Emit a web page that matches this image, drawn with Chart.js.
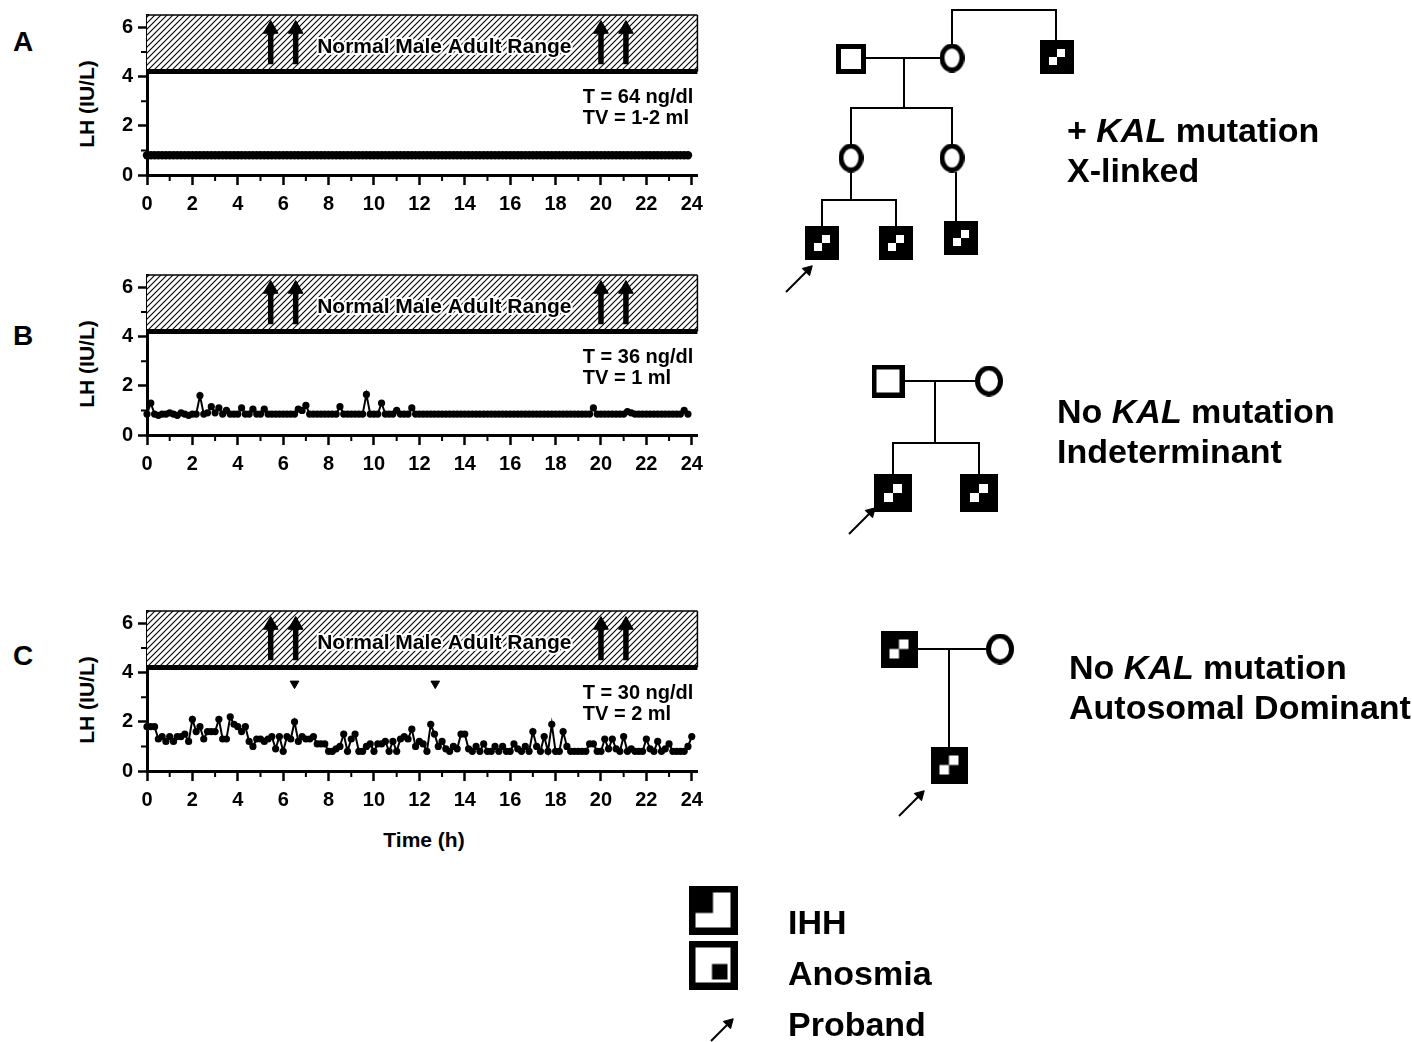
<!DOCTYPE html>
<html><head><meta charset="utf-8">
<script src="https://cdn.jsdelivr.net/npm/chart.js@4.4.1/dist/chart.umd.min.js"></script>
<style>
html,body{margin:0;padding:0;background:#fff;}
body{width:1412px;height:1042px;position:relative;overflow:hidden;font-family:"Liberation Sans",Arial,Helvetica,sans-serif;}
canvas{position:absolute;}
.lbl{position:absolute;font-weight:bold;color:#000;white-space:nowrap;}
.big{font-size:34px;line-height:40px;}
.letter{font-size:28px;line-height:40px;}
.ytitle{font-size:21px;line-height:24px;width:120px;height:24px;text-align:center;transform:rotate(-90deg);}
</style></head><body>
<canvas id="lh0" width="610" height="222" style="left:100px;top:-2px"></canvas>
<canvas id="lh1" width="610" height="222" style="left:100px;top:258px"></canvas>
<canvas id="lh2" width="610" height="222" style="left:100px;top:594px"></canvas>
<canvas id="ped" width="732" height="1042" style="left:680px;top:0px"></canvas>

<div class="lbl letter" style="left:13px;top:22px">A</div>
<div class="lbl letter" style="left:13px;top:316px">B</div>
<div class="lbl letter" style="left:13px;top:636px">C</div>

<div class="lbl ytitle" style="left:27px;top:92px">LH (IU/L)</div>
<div class="lbl ytitle" style="left:27px;top:352px">LH (IU/L)</div>
<div class="lbl ytitle" style="left:27px;top:688px">LH (IU/L)</div>
<div class="lbl" style="left:364px;top:828px;width:120px;text-align:center;font-size:21px;line-height:24px;">Time (h)</div>

<div class="lbl big" style="left:1067px;top:110px">+ <i>KAL</i> mutation</div>
<div class="lbl big" style="left:1067px;top:150px">X-linked</div>
<div class="lbl big" style="left:1057px;top:391px">No <i>KAL</i> mutation</div>
<div class="lbl big" style="left:1057px;top:431px">Indeterminant</div>
<div class="lbl big" style="left:1069px;top:647px">No <i>KAL</i> mutation</div>
<div class="lbl big" style="left:1069px;top:687px">Autosomal Dominant</div>
<div class="lbl big" style="left:788px;top:902px">IHH</div>
<div class="lbl big" style="left:788px;top:953px">Anosmia</div>
<div class="lbl big" style="left:788px;top:1004px">Proband</div>

<script>
// ---------------- DATA ----------------
const SAMPLE_HOURS = 1 / 6;          // one LH sample every 10 minutes
const hourTicks = [0, 2, 4, 6, 8, 10, 12, 14, 16, 18, 20, 22, 24];
const lhTicks = [0, 2, 4, 6];
const normalRangeLow = 4.2;
const normalRangeHigh = 6.5;
const rangeLabel = 'Normal Male Adult Range';
const rangeArrowHours = [5.45, 6.55, 20.0, 21.1];
const markerHoursC = [6.5, 12.7];
const tLabels = ['T = 64 ng/dl', 'T = 36 ng/dl', 'T = 30 ng/dl'];
const tvLabels = ['TV = 1-2 ml', 'TV = 1 ml', 'TV = 2 ml'];

const lhA = [
0.8,0.8,0.8,0.8,0.8,0.8,0.8,0.8,0.8,0.8,0.8,0.8,
0.8,0.8,0.8,0.8,0.8,0.8,0.8,0.8,0.8,0.8,0.8,0.8,
0.8,0.8,0.8,0.8,0.8,0.8,0.8,0.8,0.8,0.8,0.8,0.8,
0.8,0.8,0.8,0.8,0.8,0.8,0.8,0.8,0.8,0.8,0.8,0.8,
0.8,0.8,0.8,0.8,0.8,0.8,0.8,0.8,0.8,0.8,0.8,0.8,
0.8,0.8,0.8,0.8,0.8,0.8,0.8,0.8,0.8,0.8,0.8,0.8,
0.8,0.8,0.8,0.8,0.8,0.8,0.8,0.8,0.8,0.8,0.8,0.8,
0.8,0.8,0.8,0.8,0.8,0.8,0.8,0.8,0.8,0.8,0.8,0.8,
0.8,0.8,0.8,0.8,0.8,0.8,0.8,0.8,0.8,0.8,0.8,0.8,
0.8,0.8,0.8,0.8,0.8,0.8,0.8,0.8,0.8,0.8,0.8,0.8,
0.8,0.8,0.8,0.8,0.8,0.8,0.8,0.8,0.8,0.8,0.8,0.8,
0.8,0.8,0.8,0.8,0.8,0.8,0.8,0.8,0.8,0.8,0.8,0.8
];
const lhB = [
0.85,1.3,0.85,0.8,0.85,0.85,0.9,0.85,0.8,0.9,0.85,0.8,
0.85,0.85,1.6,0.85,0.9,1.15,0.9,1.1,0.85,1.0,0.85,0.85,
0.85,1.1,0.85,0.85,1.05,0.85,0.85,1.05,0.85,0.85,0.85,0.85,
0.85,0.85,0.85,0.85,1.05,1.0,1.2,0.85,0.85,0.85,0.85,0.85,
0.85,0.85,0.85,1.15,0.85,0.85,0.85,0.85,0.85,0.85,1.65,0.85,
0.85,0.85,1.3,0.85,0.85,0.85,1.0,0.85,0.85,0.85,1.1,0.85,
0.85,0.85,0.85,0.85,0.85,0.85,0.85,0.85,0.85,0.85,0.85,0.85,
0.85,0.85,0.85,0.85,0.85,0.85,0.85,0.85,0.85,0.85,0.85,0.85,
0.85,0.85,0.85,0.85,0.85,0.85,0.85,0.85,0.85,0.85,0.85,0.85,
0.85,0.85,0.85,0.85,0.85,0.85,0.85,0.85,0.85,0.85,1.1,0.85,
0.85,0.85,0.85,0.85,0.85,0.85,0.85,0.95,0.9,0.85,0.85,0.85,
0.85,0.85,0.85,0.85,0.85,0.85,0.85,0.85,0.85,0.85,1.0,0.85
];
const lhC = [
1.8,1.8,1.8,1.3,1.4,1.2,1.4,1.2,1.4,1.4,1.5,1.2,
2.1,1.6,1.8,1.3,1.6,1.6,1.6,2.1,1.3,1.3,2.2,1.9,
1.8,1.6,1.8,1.2,1.0,1.3,1.3,1.2,1.3,1.4,0.9,1.4,
0.8,1.4,1.3,2.0,1.2,1.4,1.3,1.3,1.4,1.1,1.1,1.1,
0.8,0.8,0.9,1.0,1.5,0.8,1.3,1.5,0.8,0.8,1.0,1.1,
0.8,1.1,1.1,1.2,0.8,1.2,0.8,1.3,1.4,1.3,1.7,1.0,
1.2,1.1,0.8,1.9,1.5,1.0,1.2,0.9,0.8,1.0,0.9,1.5,
1.5,0.9,0.8,1.0,0.8,1.1,0.8,0.8,1.0,0.8,1.0,0.8,
0.8,1.1,0.9,0.8,1.0,0.8,1.6,1.0,0.8,1.4,0.8,1.9,
0.8,0.8,1.6,1.0,0.8,0.8,0.8,0.8,0.8,1.1,1.1,0.8,
0.8,1.3,0.9,1.3,0.9,0.8,1.4,0.8,0.9,0.8,0.8,0.8,
1.3,0.9,0.8,1.2,0.8,0.9,1.1,0.8,0.8,0.8,0.8,1.0,
1.4
];

// Pedigree layout (page coordinates)
const pedigreeMembers = [
  {x:851, y:59,  kind:'male',     w:30, h:30},
  {x:952, y:58,  kind:'female',   w:25, h:29},
  {x:1057,y:57,  kind:'affected', w:34, h:34},
  {x:851, y:158, kind:'female',   w:25, h:29},
  {x:952, y:158, kind:'female',   w:25, h:29},
  {x:822, y:243, kind:'affected', w:34, h:34},
  {x:896, y:243, kind:'affected', w:34, h:34},
  {x:961, y:238, kind:'affected', w:34, h:34},
  {x:888, y:381, kind:'male',     w:33, h:33},
  {x:989, y:381, kind:'female',   w:28, h:31},
  {x:893, y:493, kind:'affected', w:38, h:38},
  {x:979, y:493, kind:'affected', w:38, h:38},
  {x:899, y:649, kind:'affected', w:37, h:37},
  {x:1000,y:649, kind:'female',   w:28, h:31},
  {x:949, y:765, kind:'affected', w:37, h:37},
  {x:713, y:910, kind:'ihh',      w:49, h:49},
  {x:713, y:965, kind:'anosmia',  w:49, h:49}
];
const pedigreeLines = [
  [[952,44],[952,10],[1056,10],[1056,40]],
  [[866,58],[940,58]],
  [[904,58],[904,108]],
  [[851,144],[851,108],[952,108],[952,144]],
  [[851,172],[851,200]],
  [[822,226],[822,200],[896,200],[896,226]],
  [[956,172],[956,221]],
  [[904,381],[975,381]],
  [[935,381],[935,443]],
  [[893,474],[893,443],[979,443],[979,474]],
  [[917,649],[986,649]],
  [[949,649],[949,747]]
];
const probandArrows = [
  [[786,292],[808,270]],
  [[849,534],[871,512]],
  [[899,816],[920,795]],
  [[711,1041],[729,1023]]
];

// ---------------- RENDER ----------------
const FONT = '"Liberation Sans", Arial, Helvetica, sans-serif';
const X_MAX = 24.25;

function makePattern(ctx) {
  const c = document.createElement('canvas'); c.width = 6; c.height = 6;
  const g = c.getContext('2d');
  g.fillStyle = '#fff'; g.fillRect(0, 0, 6, 6);
  g.strokeStyle = '#000'; g.lineWidth = 1.1;
  g.beginPath();
  g.moveTo(-1, 7); g.lineTo(7, -1);
  g.moveTo(-1, 1); g.lineTo(1, -1);
  g.moveTo(5, 7); g.lineTo(7, 5);
  g.stroke();
  return ctx.createPattern(c, 'repeat');
}

function makePanel(idx, values, markers) {
  const canvas = document.getElementById('lh' + idx);
  const ctx = canvas.getContext('2d');
  const pattern = makePattern(ctx);
  const series = values.map((v, k) => ({x: k * SAMPLE_HOURS, y: v}));
  const datasets = [];
  datasets.push({data:[{x:0,y:normalRangeHigh},{x:X_MAX,y:normalRangeHigh}], fill:{value:normalRangeLow},
    backgroundColor:pattern, borderColor:'#000', borderWidth:1.5, pointRadius:0, order:30, clip:false});
  datasets.push({data:[{x:X_MAX,y:normalRangeHigh},{x:X_MAX,y:normalRangeLow}], borderColor:'#000',
    borderWidth:1.5, pointRadius:0, fill:false, order:29, clip:false});
  datasets.push({data:[{x:0,y:normalRangeLow},{x:X_MAX,y:normalRangeLow}], borderColor:'#000',
    borderWidth:5, pointRadius:0, fill:false, order:28, clip:false});
  rangeArrowHours.forEach(h => datasets.push({
    data:[{x:h,y:4.5},{x:h,y:5.93}], borderColor:'#000', borderWidth:5.5, borderCapStyle:'butt',
    pointRadius:[0,8.5], pointStyle:'triangle', pointBackgroundColor:'#000', pointBorderColor:'#000',
    pointBorderWidth:1, fill:false, order:10, clip:false}));
  if (markers) datasets.push({data: markers.map(h => ({x:h, y:3.55})), showLine:false,
    pointStyle:'triangle', pointRotation:180, pointRadius:5, pointBackgroundColor:'#000',
    pointBorderColor:'#000', pointBorderWidth:1, order:2});
  datasets.push({data:series, borderColor:'#000', borderWidth:2, pointRadius: idx === 0 ? 4.2 : 3.6,
    pointBackgroundColor:'#000', pointBorderColor:'#000', pointBorderWidth:0, fill:false,
    tension:0, order:0, clip:false});

  const annot = {
    id:'annot' + idx,
    afterDatasetsDraw(chart) {
      const c = chart.ctx, xs = chart.scales.x, ys = chart.scales.y;
      c.save();
      c.font = 'bold 21px ' + FONT;
      c.textAlign = 'center'; c.textBaseline = 'middle';
      const px = xs.getPixelForValue(13.1), py = ys.getPixelForValue(5.2);
      c.lineJoin = 'round'; c.lineWidth = 4; c.strokeStyle = '#fff';
      c.strokeText(rangeLabel, px, py);
      c.fillStyle = '#000'; c.fillText(rangeLabel, px, py);
      c.font = 'bold 20px ' + FONT; c.textAlign = 'left';
      c.fillText(tLabels[idx], xs.getPixelForValue(19.2), ys.getPixelForValue(3.14));
      c.fillText(tvLabels[idx], xs.getPixelForValue(19.2), ys.getPixelForValue(2.31));
      c.restore();
    },
    afterDraw(chart) {
      const c = chart.ctx, xs = chart.scales.x, ys = chart.scales.y, a = chart.chartArea;
      c.save(); c.strokeStyle = '#000'; c.lineWidth = 2;
      c.beginPath();
      for (let h = 1; h < 24; h += 2) { const p = xs.getPixelForValue(h); c.moveTo(p, a.bottom); c.lineTo(p, a.bottom + 6); }
      for (let v = 1; v < 6; v += 2) { const p = ys.getPixelForValue(v); c.moveTo(a.left - 6, p); c.lineTo(a.left, p); }
      c.stroke(); c.restore();
    }
  };

  const tickFont = {family: FONT, size: 20, weight: 'bold'};
  new Chart(ctx, {
    type: 'line',
    data: {datasets},
    options: {
      responsive:false, animation:false, devicePixelRatio:1, events:[],
      layout:{autoPadding:false, padding:{left:0, right:12, top:0, bottom:0}},
      plugins:{legend:{display:false}, tooltip:{enabled:false}},
      scales:{
        x:{type:'linear', min:0, max:X_MAX,
          afterBuildTicks: s => { s.ticks = hourTicks.map(v => ({value:v})); },
          afterFit: s => { s.height = 45; },
          ticks:{color:'#000', font:tickFont, padding:7, autoSkip:false, maxRotation:0, includeBounds:false},
          grid:{drawOnChartArea:false, drawTicks:true, tickLength:10, tickWidth:2.5, tickColor:'#000'},
          border:{display:true, color:'#000', width:3}},
        y:{type:'linear', min:0, max:normalRangeHigh,
          afterBuildTicks: s => { s.ticks = lhTicks.map(v => ({value:v})); },
          afterFit: s => { s.width = 47; },
          ticks:{color:'#000', font:tickFont, padding:5, includeBounds:false},
          grid:{drawOnChartArea:false, drawTicks:true, tickLength:9, tickWidth:2.5, tickColor:'#000'},
          border:{display:true, color:'#000', width:3}}
      }
    },
    plugins:[annot]
  });
}

makePanel(0, lhA, null);
makePanel(1, lhB, null);
makePanel(2, lhC, markerHoursC);

// ---- pedigree symbols ----
function symbolCanvas(m) {
  const c = document.createElement('canvas'); c.width = m.w; c.height = m.h;
  const g = c.getContext('2d'); const w = m.w, h = m.h;
  if (m.kind === 'male') {
    const b = 5; g.fillStyle = '#000'; g.fillRect(0,0,w,h); g.fillStyle = '#fff'; g.fillRect(b,b,w-2*b,h-2*b);
  } else if (m.kind === 'female') {
    const b = 5; g.fillStyle = '#fff'; g.strokeStyle = '#000'; g.lineWidth = b;
    g.beginPath(); g.ellipse(w/2, h/2, w/2 - b/2, h/2 - b/2, 0, 0, Math.PI*2); g.fill(); g.stroke();
  } else if (m.kind === 'affected') {
    const t = Math.round(w * 0.25), q = (w - 2*t) / 2;
    g.fillStyle = '#000'; g.fillRect(0,0,w,h); g.fillStyle = '#fff';
    g.fillRect(t + q, t, q, q); g.fillRect(t, t + q, q, q);
  } else {
    const b = 7, inner = w - 2*b, q = inner / 2;
    g.fillStyle = '#000'; g.fillRect(0,0,w,h); g.fillStyle = '#fff'; g.fillRect(b,b,inner,inner);
    g.fillStyle = '#000';
    if (m.kind === 'ihh') g.fillRect(b, b, q, q + 3);
    else g.fillRect(b + q - 1, b + q - 1, q - 2, q - 2);
  }
  return c;
}

const pedDatasets = [];
pedigreeLines.forEach(line => pedDatasets.push({
  data: line.map(p => ({x:p[0], y:p[1]})), showLine:true, borderColor:'#000', borderWidth:2,
  pointRadius:0, fill:false, order:5, clip:false}));
probandArrows.forEach(ar => pedDatasets.push({
  data: ar.map(p => ({x:p[0], y:p[1]})), showLine:true, borderColor:'#000', borderWidth:2,
  pointRadius:[0,6], pointStyle:'triangle', pointRotation:45, pointBackgroundColor:'#000',
  pointBorderColor:'#000', pointBorderWidth:1, fill:false, order:4, clip:false}));
pedDatasets.push({
  data: pedigreeMembers.map(m => ({x:m.x, y:m.y})), showLine:false,
  pointStyle: pedigreeMembers.map(symbolCanvas), pointRadius:5, order:0, clip:false});

new Chart(document.getElementById('ped').getContext('2d'), {
  type:'scatter',
  data:{datasets: pedDatasets},
  options:{
    responsive:false, animation:false, devicePixelRatio:1, events:[],
    layout:{autoPadding:false, padding:0},
    plugins:{legend:{display:false}, tooltip:{enabled:false}},
    scales:{
      x:{type:'linear', min:680, max:1412, display:false},
      y:{type:'linear', min:0, max:1042, reverse:true, display:false}
    }
  }
});
</script>
</body></html>
